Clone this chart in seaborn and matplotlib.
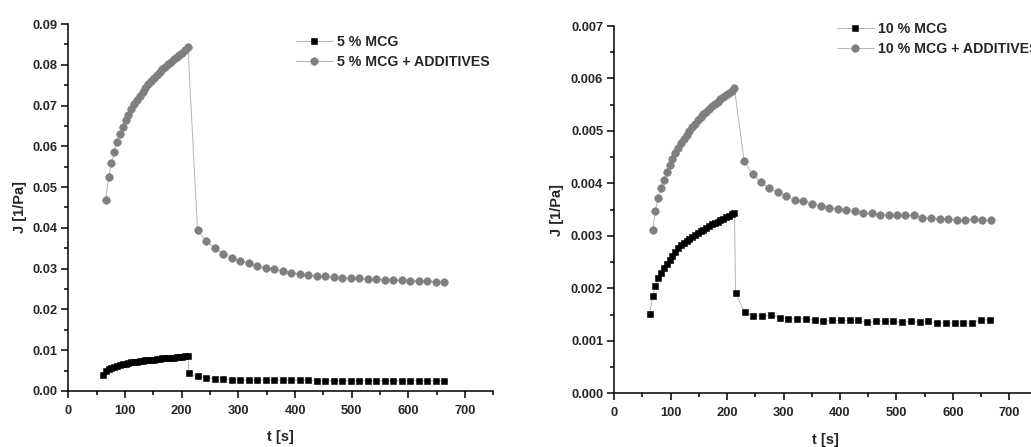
import matplotlib
matplotlib.use("Agg")
import matplotlib.pyplot as plt
from matplotlib.ticker import MultipleLocator, AutoMinorLocator, FormatStrFormatter
import seaborn as sns
import pandas as pd

# ---- 5 % MCG ----
t_5 = [61, 66, 71, 76, 81, 86, 91, 96, 101, 106, 111, 116, 121, 126, 131, 136,
       141, 146, 151, 156, 161, 166, 171, 176, 181, 186, 191, 196, 201, 206, 211,
       213, 228, 243, 258, 273, 288, 303, 318, 333, 348, 363, 378, 393, 408, 423,
       438, 453, 468, 483, 498, 513, 528, 543, 558, 573, 588, 603, 618, 633, 648, 663]
j_5 = [0.0040, 0.0049, 0.0054, 0.0057, 0.0060, 0.0062, 0.0064, 0.0066, 0.0067,
       0.0068, 0.0070, 0.0071, 0.0072, 0.0073, 0.0074, 0.0075, 0.0076, 0.0077,
       0.0077, 0.0078, 0.0079, 0.0080, 0.0080, 0.0081, 0.0082, 0.0082, 0.0083,
       0.0084, 0.0084, 0.0085, 0.0086,
       0.0043, 0.0036, 0.0033, 0.0030, 0.0029, 0.0028, 0.0028, 0.0027, 0.0027,
       0.0027, 0.0026, 0.0026, 0.0026, 0.0026, 0.0026, 0.0025, 0.0025, 0.0025,
       0.0025, 0.0025, 0.0025, 0.0025, 0.0025, 0.0025, 0.0025, 0.0025, 0.0025,
       0.0025, 0.0025, 0.0025, 0.0025]

# ---- 5 % MCG + ADDITIVES ----
t_5a = [66, 71, 76, 81, 86, 91, 96, 101, 106, 111, 116, 121, 126, 131, 136, 141,
        146, 151, 156, 161, 166, 171, 176, 181, 186, 191, 196, 201, 206, 211,
        228, 243, 258, 273, 288, 303, 318, 333, 348, 363, 378, 393, 408, 423, 438,
        453, 468, 483, 498, 513, 528, 543, 558, 573, 588, 603, 618, 633, 648, 663]
j_5a = [0.0469, 0.0524, 0.0558, 0.0586, 0.0610, 0.0630, 0.0648, 0.0664, 0.0678,
        0.0691, 0.0703, 0.0714, 0.0724, 0.0734, 0.0743, 0.0752, 0.0760, 0.0768,
        0.0775, 0.0782, 0.0789, 0.0795, 0.0801, 0.0807, 0.0813, 0.0819, 0.0824,
        0.0830, 0.0836, 0.0843,
        0.0394, 0.0368, 0.0350, 0.0337, 0.0327, 0.0320, 0.0313, 0.0307, 0.0302,
        0.0298, 0.0294, 0.0290, 0.0287, 0.0285, 0.0283, 0.0281, 0.0280, 0.0278,
        0.0277, 0.0276, 0.0275, 0.0274, 0.0273, 0.0272, 0.0271, 0.0270, 0.0270,
        0.0269, 0.0268, 0.0267]

# ---- 10 % MCG ----
t_10 = [63, 68, 73, 78, 83, 88, 93, 98, 103, 108, 113, 118, 123, 128, 133, 138,
        143, 148, 153, 158, 163, 168, 173, 178, 183, 188, 193, 198, 203, 208, 213,
        215, 231, 246, 262, 277, 293, 308, 324, 339, 355, 370, 386, 401, 417, 432,
        448, 463, 479, 494, 510, 525, 541, 556, 572, 587, 603, 618, 634, 649, 665]
j_10 = [0.00152, 0.00186, 0.00205, 0.00219, 0.00230, 0.00239, 0.00247, 0.00254,
        0.00262, 0.00269, 0.00277, 0.00282, 0.00286, 0.00290, 0.00294, 0.00298,
        0.00302, 0.00306, 0.00309, 0.00312, 0.00315, 0.00318, 0.00322, 0.00324,
        0.00327, 0.00330, 0.00333, 0.00336, 0.00338, 0.00341, 0.00344,
        0.00191, 0.00155, 0.00148, 0.00148, 0.00149, 0.00144, 0.00142, 0.00142,
        0.00142, 0.00139, 0.00137, 0.00139, 0.00139, 0.00139, 0.00139, 0.00135,
        0.00137, 0.00138, 0.00137, 0.00135, 0.00137, 0.00136, 0.00137, 0.00134,
        0.00134, 0.00134, 0.00134, 0.00134, 0.00140, 0.00140]

# ---- 10 % MCG + ADDITIVES ----
t_10a = [68, 73, 78, 83, 88, 93, 98, 103, 108, 113, 118, 123, 128, 133, 138, 143,
         148, 153, 158, 163, 168, 173, 178, 183, 188, 193, 198, 203, 208, 213,
         230, 245, 260, 275, 290, 305, 320, 335, 351, 366, 381, 396, 411, 426, 441,
         456, 471, 486, 501, 516, 531, 546, 561, 577, 592, 607, 622, 637, 652, 667]
j_10a = [0.00311, 0.00348, 0.00373, 0.00391, 0.00407, 0.00421, 0.00435, 0.00447,
         0.00458, 0.00468, 0.00477, 0.00485, 0.00493, 0.00500, 0.00507, 0.00514,
         0.00520, 0.00526, 0.00532, 0.00537, 0.00542, 0.00547, 0.00552, 0.00556,
         0.00561, 0.00565, 0.00569, 0.00573, 0.00577, 0.00581,
         0.00443, 0.00418, 0.00402, 0.00391, 0.00383, 0.00376, 0.00368, 0.00367,
         0.00361, 0.00357, 0.00354, 0.00352, 0.00349, 0.00347, 0.00344, 0.00343,
         0.00340, 0.00339, 0.00339, 0.00339, 0.00339, 0.00335, 0.00334, 0.00332,
         0.00332, 0.00331, 0.00331, 0.00332, 0.00330, 0.00330]

labels_left = ["5 % MCG", "5 % MCG + ADDITIVES"]
labels_right = ["10 % MCG", "10 % MCG + ADDITIVES"]
yticks_left = [0.00, 0.01, 0.02, 0.03, 0.04, 0.05, 0.06, 0.07, 0.08, 0.09]
yticks_right = [0.000, 0.001, 0.002, 0.003, 0.004, 0.005, 0.006, 0.007]
xticks = [0, 100, 200, 300, 400, 500, 600, 700]

sns.set_style("ticks")
plt.rcParams["font.family"] = ["Liberation Sans", "DejaVu Sans"]
plt.rcParams["font.weight"] = "bold"
plt.rcParams["axes.labelweight"] = "bold"

LINE_GREY = "#b4b4b4"
DARK = "#000000"
GREY = "#7f7f7f"

fig = plt.figure(figsize=(10.31, 4.47), dpi=100)
ax1 = fig.add_axes([0.0663, 0.1253, 0.4122, 0.8210])
ax2 = fig.add_axes([0.5958, 0.1201, 0.4105, 0.8217])


def draw(ax, t, j, label, marker, mcolor, msize):
    df = pd.DataFrame({"t": t, "J": j})
    sns.lineplot(data=df, x="t", y="J", ax=ax, sort=False, estimator=None,
                 errorbar=None, color=LINE_GREY, linewidth=0.7, marker=marker,
                 markersize=msize, markerfacecolor=mcolor, markeredgecolor=mcolor,
                 markeredgewidth=0.4, label=label, legend=False)


draw(ax1, t_5, j_5, labels_left[0], "s", DARK, 4.8)
draw(ax1, t_5a, j_5a, labels_left[1], "o", GREY, 5.5)
draw(ax2, t_10, j_10, labels_right[0], "s", DARK, 4.8)
draw(ax2, t_10a, j_10a, labels_right[1], "o", GREY, 5.5)


def style_axes(ax, yticks, fmt, ymax):
    ax.set_xlim(0, 750)
    ax.set_ylim(0, ymax)
    ax.set_xticks(xticks)
    ax.xaxis.set_minor_locator(MultipleLocator(50))
    ax.set_yticks(yticks)
    ax.yaxis.set_minor_locator(AutoMinorLocator(2))
    ax.yaxis.set_major_formatter(FormatStrFormatter(fmt))
    ax.tick_params(which="major", direction="out", length=5, width=1.1,
                   labelsize=9.3, color="black")
    ax.tick_params(axis="x", which="major", pad=5)
    ax.tick_params(axis="y", which="major", pad=3)
    ax.tick_params(which="minor", direction="out", length=3, width=1.1, color="black")
    for side in ("top", "right"):
        ax.spines[side].set_visible(False)
    for side in ("left", "bottom"):
        ax.spines[side].set_linewidth(1.1)
        ax.spines[side].set_color("black")
    for lab in ax.get_xticklabels() + ax.get_yticklabels():
        lab.set_fontweight("bold")
    ax.set_xlabel("t [s]", fontsize=10.5, fontweight="bold")
    ax.set_ylabel("J [1/Pa]", fontsize=10.5, fontweight="bold")


style_axes(ax1, yticks_left, "%.2f", 0.09)
style_axes(ax2, yticks_right, "%.3f", 0.007)
ax1.yaxis.set_label_coords(-0.098, 0.5)
ax2.yaxis.set_label_coords(-0.119, 0.5)
ax1.xaxis.set_label_coords(0.5, -0.105)
ax2.xaxis.set_label_coords(0.5, -0.108)

leg_kw = dict(frameon=False, handlelength=2.6, handletextpad=0.3,
              labelspacing=0.4, borderpad=0, borderaxespad=0, numpoints=1,
              prop={"weight": "bold", "size": 10.2})
ax1.legend(loc="upper left", bbox_to_anchor=(296 / 1031, 1 - 35 / 447),
           bbox_transform=fig.transFigure, **leg_kw)
ax2.legend(loc="upper left", bbox_to_anchor=(837 / 1031, 1 - 22 / 447),
           bbox_transform=fig.transFigure, **leg_kw)

fig.savefig("out.png", dpi=100)
